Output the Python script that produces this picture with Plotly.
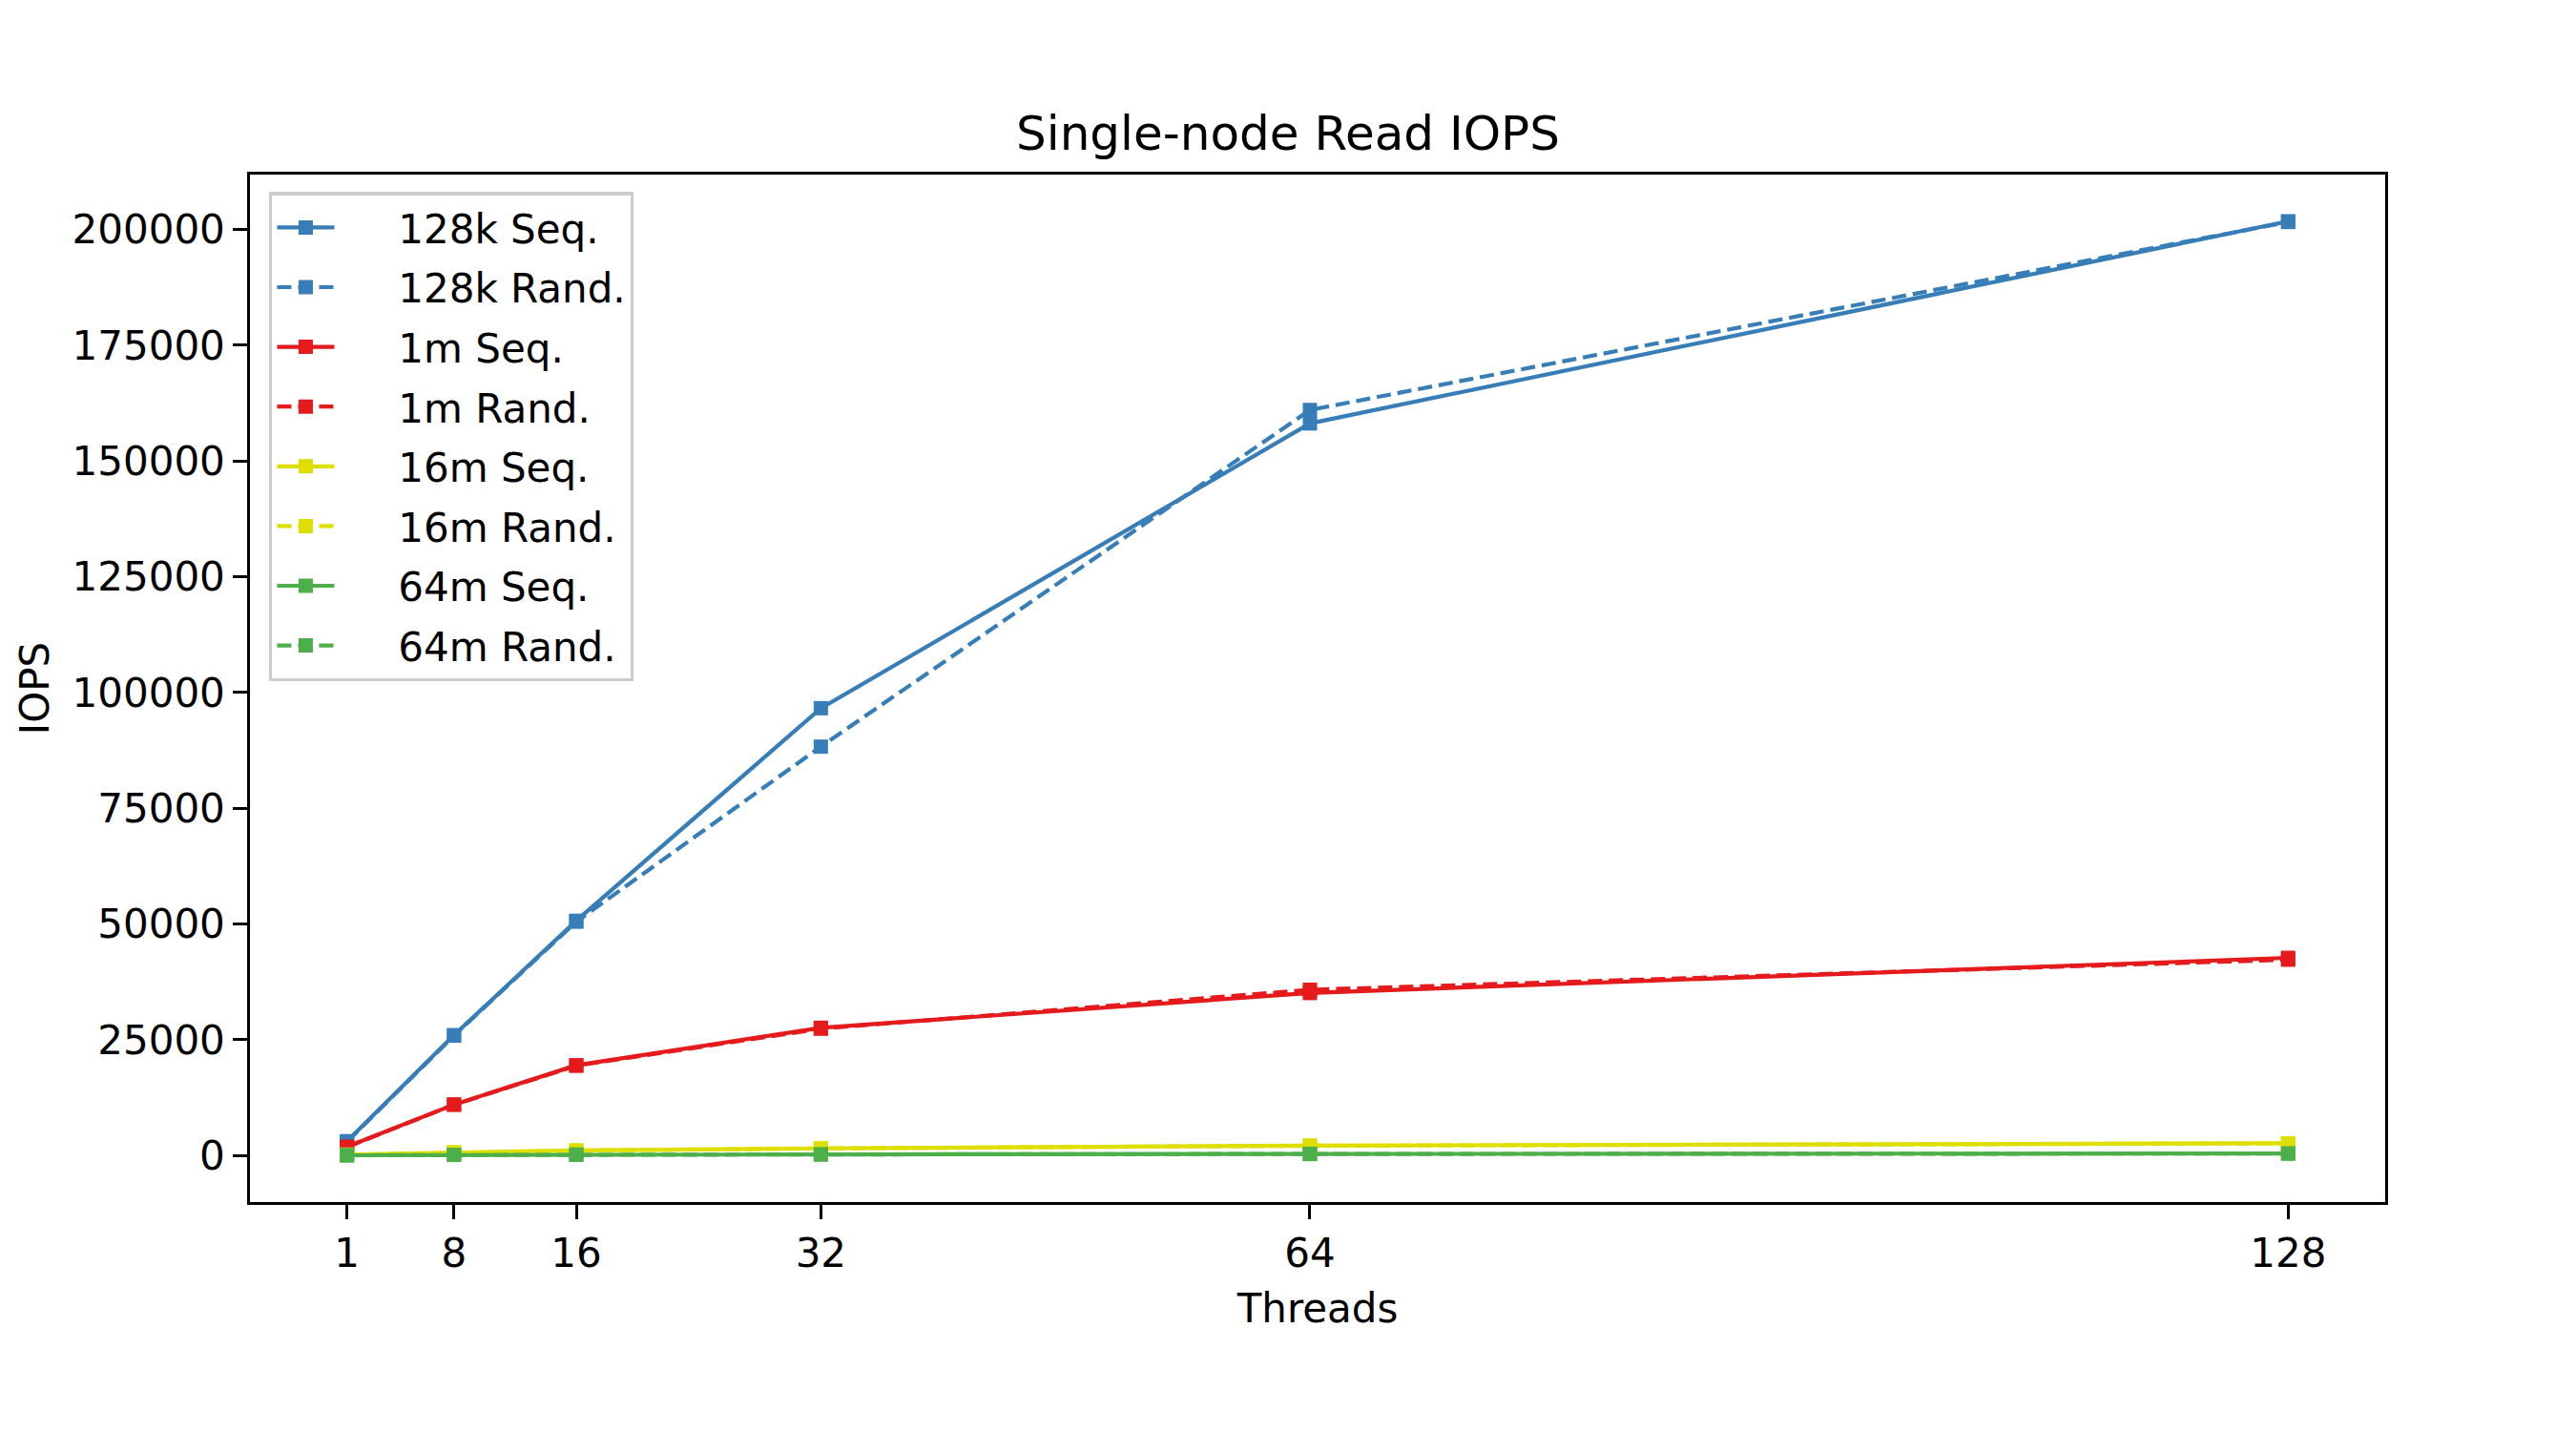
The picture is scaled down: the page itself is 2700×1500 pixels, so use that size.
import plotly.graph_objects as go

threads = [1, 8, 16, 32, 64, 128]
x_ticks = [1, 8, 16, 32, 64, 128]
y_ticks = [0, 25000, 50000, 75000, 100000, 125000, 150000, 175000, 200000]

iops_128k_seq = [3100, 26000, 50700, 96600, 158100, 201750]
iops_128k_rand = [3000, 25900, 50500, 88300, 161000, 201600]
iops_1m_seq = [1900, 11000, 19500, 27600, 35100, 42700]
iops_1m_rand = [1850, 11000, 19400, 27400, 35800, 42300]
iops_16m_seq = [200, 700, 1100, 1550, 2150, 2650]
iops_16m_rand = [190, 690, 1080, 1530, 2130, 2630]
iops_64m_seq = [60, 150, 200, 250, 350, 450]
iops_64m_rand = [55, 145, 195, 245, 345, 440]

names = ["128k Seq.", "128k Rand.", "1m Seq.", "1m Rand.",
         "16m Seq.", "16m Rand.", "64m Seq.", "64m Rand."]
series = [iops_128k_seq, iops_128k_rand, iops_1m_seq, iops_1m_rand,
          iops_16m_seq, iops_16m_rand, iops_64m_seq, iops_64m_rand]
colors = ["#377eb8", "#377eb8", "#e41a1c", "#e41a1c",
          "#dede00", "#dede00", "#4daf4a", "#4daf4a"]
dashes = ["solid", "15px,7px"] * 4

FONT = "DejaVu Sans"
PAD = "\u00a0" * 4 + "\u2009"

fig = go.Figure()
for i, (name, ys, c, d) in enumerate(zip(names, series, colors, dashes)):
    fig.add_trace(go.Scatter(
        x=threads, y=ys, name=PAD + name, mode="lines+markers",
        legendgroup=f"g{i}",
        line=dict(color=c, width=4.2, dash=d),
        marker=dict(symbol="square", size=15, color=c, line=dict(width=0)),
    ))

axis_common = dict(
    showline=True, mirror=True, linecolor="black", linewidth=3.3,
    ticks="outside", ticklen=14.6, tickwidth=3.3, tickcolor="black",
    showgrid=False, zeroline=False,
    tickfont=dict(family=FONT, size=42, color="black"),
)

# page body has an 8px margin: compensate so the plot area lands at
# x 262..2500, y 183..1260 in the viewport
fig.update_layout(
    width=2684, height=1484,
    margin=dict(l=254, r=192, t=175, b=232),
    paper_bgcolor="white", plot_bgcolor="white",
    font=dict(family=FONT, size=42, color="black"),
    title=dict(text="Single-node Read IOPS", x=0.5, xanchor="center",
               y=1 - 131 / 1484, yanchor="middle",
               font=dict(family=FONT, size=50, color="black")),
    xaxis=dict(range=[-5.35, 134.35], tickvals=x_ticks,
               ticktext=[str(t) for t in x_ticks],
               title=dict(text="Threads", standoff=20,
                          font=dict(family=FONT, size=42)),
               ticklabelstandoff=0,
               **axis_common),
    yaxis=dict(range=[-10035, 211835], tickvals=y_ticks,
               ticktext=[str(t) for t in y_ticks],
               title=dict(text="IOPS", standoff=11,
                          font=dict(family=FONT, size=42)),
               ticklabelstandoff=0,
               **axis_common),
    legend=dict(x=0.009, y=0.983, xanchor="left", yanchor="top",
                bgcolor="rgba(255,255,255,0.8)", bordercolor="#cccccc",
                borderwidth=3.3, font=dict(family=FONT, size=42),
                itemwidth=60, tracegroupgap=5),
    showlegend=True,
)

fig.write_html("out.html")
